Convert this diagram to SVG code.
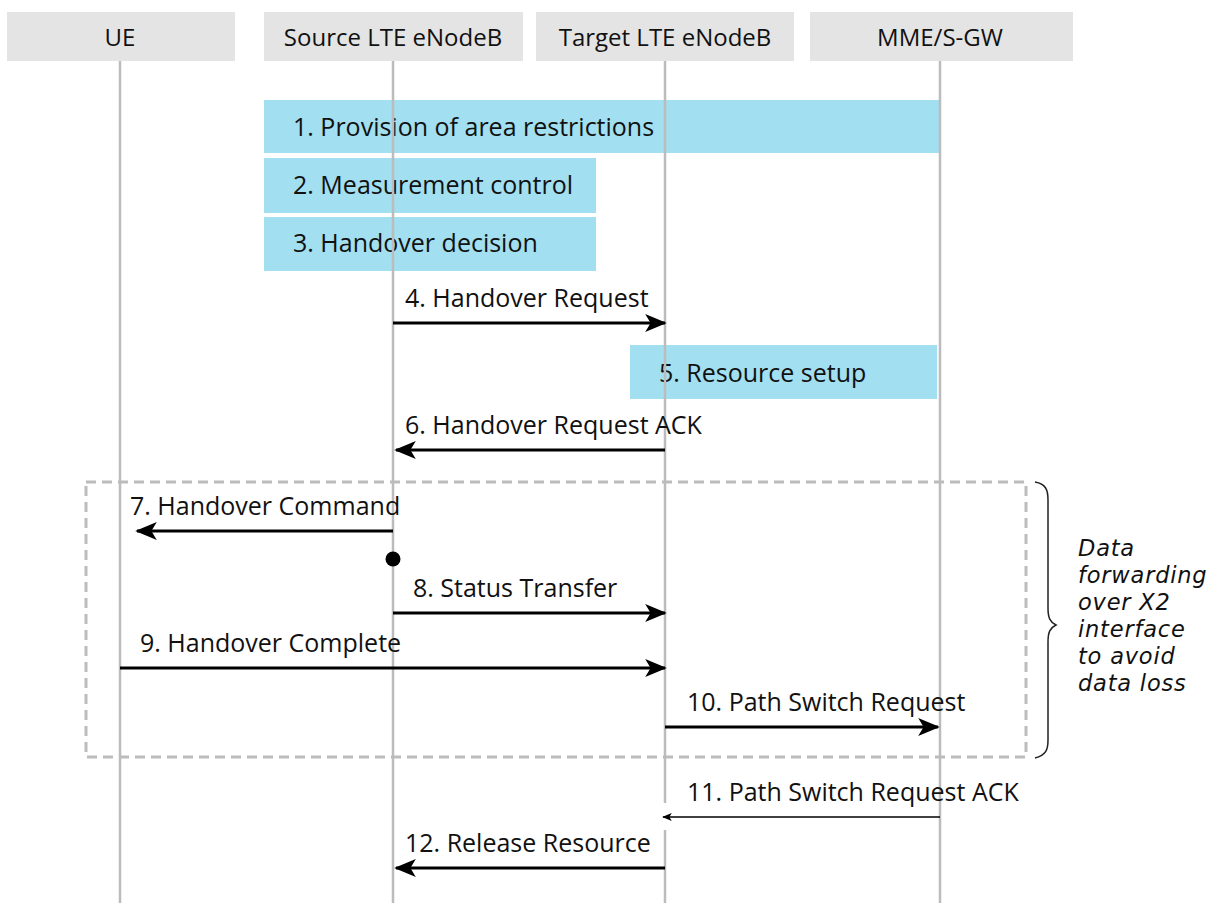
<svg xmlns="http://www.w3.org/2000/svg" width="1216" height="903" viewBox="0 0 1216 903">
<defs>
<style>
.hdr{fill:#e4e4e4}
.hdrt{font-family:"Open Sans","Liberation Sans",sans-serif;font-size:24px;fill:#111;text-anchor:middle}
.life{stroke:#bcbcbc;stroke-width:2.5;fill:none}
.act{fill:#a2dff0}
.actt{font-family:"Open Sans","Liberation Sans",sans-serif;font-size:25px;fill:#111}
.msg{stroke:#000;stroke-width:3;fill:none}
.thin{stroke:#000;stroke-width:1.5;fill:none}
.lbl{font-family:"Open Sans","Liberation Sans",sans-serif;font-size:25px;fill:#111}
.note{font-family:"DejaVu Sans","Liberation Sans",sans-serif;font-size:22.5px;letter-spacing:0.8px;font-style:italic;fill:#111}
</style>
<marker id="ah" viewBox="0 0 12 10" refX="11" refY="5" markerWidth="10" markerHeight="8" markerUnits="userSpaceOnUse" orient="auto"><path d="M0,0 L12,5 L0,10 L3,5 Z" fill="#000"/></marker>
<marker id="ahBig" viewBox="0 0 12 10" refX="11" refY="5" markerWidth="30" markerHeight="18" markerUnits="userSpaceOnUse" orient="auto"><path d="M0,0 L12,5 L0,10 L3,5 Z" fill="#000"/></marker>
</defs>
<rect width="1216" height="903" fill="#fff"/>

<g id="ue"><rect class="hdr" x="7" y="12" width="228" height="49"/><text class="hdrt" x="120" y="46">UE</text></g>
<g id="source"><rect class="hdr" x="264" y="12" width="259" height="49"/><text class="hdrt" x="393" y="46">Source LTE eNodeB</text></g>
<g id="target"><rect class="hdr" x="536" y="12" width="258" height="49"/><text class="hdrt" x="665" y="46">Target LTE eNodeB</text></g>
<g id="mme"><rect class="hdr" x="810" y="12" width="263" height="49"/><text class="hdrt" x="940" y="46">MME/S-GW</text></g>

<g id="step1"><rect class="act" x="264" y="100" width="676" height="53"/><text class="actt" x="293" y="136">1. Provision of area restrictions</text></g>
<g id="step2"><rect class="act" x="264" y="158" width="332" height="55"/><text class="actt" x="293" y="194">2. Measurement control</text></g>
<g id="step3"><rect class="act" x="264" y="217" width="332" height="54"/><text class="actt" x="293" y="252">3. Handover decision</text></g>
<g id="step5"><rect class="act" x="630" y="345" width="307" height="54"/><text class="actt" x="659" y="382">5. Resource setup</text></g>

<g id="lifelines">
<line class="life" x1="120" y1="61" x2="120" y2="903"/>
<line class="life" x1="393" y1="61" x2="393" y2="903"/>
<line class="life" x1="665" y1="61" x2="665" y2="803"/>
<line class="life" x1="665" y1="830" x2="665" y2="903"/>
<line class="life" x1="940" y1="61" x2="940" y2="903"/>
</g>

<g id="forwarding-group">
<rect x="86" y="482" width="940" height="275" fill="none" stroke="#bcbcbc" stroke-width="3" stroke-dasharray="10,6"/>
<path d="M1035,482 C1046,484 1048,490 1048,500 L1048,608 C1048,618 1050,622 1056,625 C1050,628 1048,632 1048,642 L1048,740 C1048,750 1046,755 1035,758" fill="none" stroke="#222" stroke-width="1.5"/>
<text class="note" x="1078" y="556">Data</text>
<text class="note" x="1078" y="583">forwarding</text>
<text class="note" x="1078" y="610">over X2</text>
<text class="note" x="1078" y="637">interface</text>
<text class="note" x="1078" y="664">to avoid</text>
<text class="note" x="1078" y="691">data loss</text>
</g>

<g id="connectors">
<line class="msg" x1="393" y1="323" x2="665" y2="323" marker-end="url(#ahBig)"/>
<text class="lbl" x="405" y="307">4. Handover Request</text>
<line class="msg" x1="665" y1="450" x2="396" y2="450" marker-end="url(#ahBig)"/>
<text class="lbl" x="405" y="434">6. Handover Request ACK</text>
<line class="msg" x1="393" y1="531" x2="137" y2="531" marker-end="url(#ahBig)"/>
<text class="lbl" x="130" y="515">7. Handover Command</text>
<circle cx="393" cy="559" r="7.5" fill="#000"/>
<line class="msg" x1="393" y1="613" x2="665" y2="613" marker-end="url(#ahBig)"/>
<text class="lbl" x="413" y="597">8. Status Transfer</text>
<line class="msg" x1="120" y1="668" x2="665" y2="668" marker-end="url(#ahBig)"/>
<text class="lbl" x="140" y="652">9. Handover Complete</text>
<line class="msg" x1="665" y1="727" x2="938" y2="727" marker-end="url(#ahBig)"/>
<text class="lbl" x="687" y="711">10. Path Switch Request</text>
<line class="thin" x1="940" y1="817" x2="663" y2="817" marker-end="url(#ah)"/>
<text class="lbl" x="687" y="801">11. Path Switch Request ACK</text>
<line class="msg" x1="665" y1="868" x2="396" y2="868" marker-end="url(#ahBig)"/>
<text class="lbl" x="405" y="852">12. Release Resource</text>
</g>
</svg>
